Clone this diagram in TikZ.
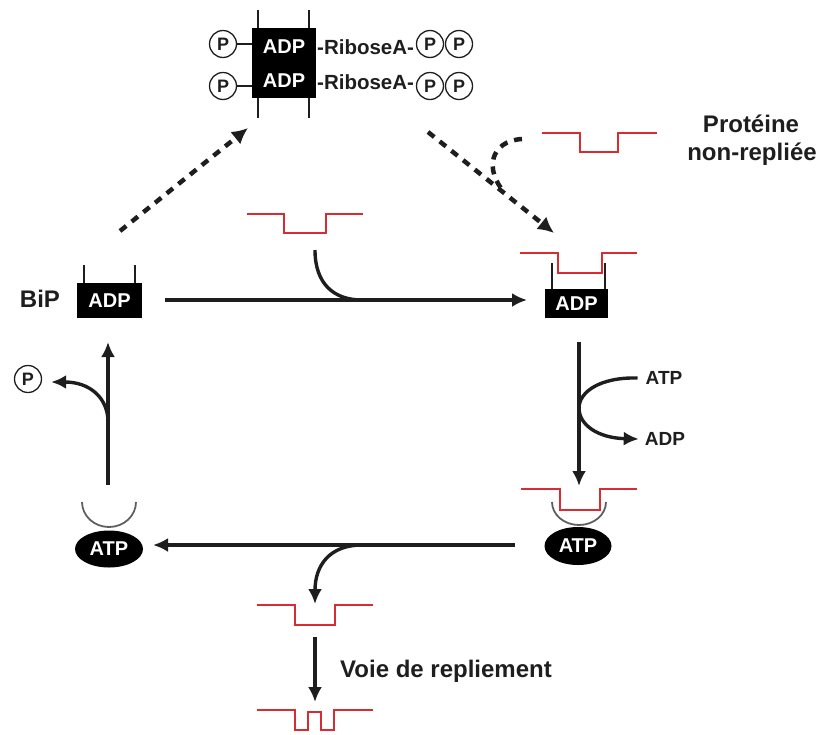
\documentclass[tikz,border=0pt]{standalone}
\usepackage{fontspec}
\setmainfont{Liberation Sans}
\usetikzlibrary{arrows.meta,shapes.geometric}
\definecolor{protred}{RGB}{215,45,50}
\definecolor{cupgray}{RGB}{95,95,95}
\definecolor{ink}{RGB}{30,30,30}
\begin{document}
\begin{tikzpicture}[x=1pt,y=-1pt,
  lbl/.style={font=\fontsize{24}{28}\selectfont\bfseries, text=ink, inner sep=0pt},
  small/.style={font=\fontsize{19}{22}\selectfont\bfseries, text=ink, inner sep=0pt},
  boxtxt/.style={font=\fontsize{20}{22}\selectfont\bfseries, text=white, inner sep=0pt},
  blackbox/.style={fill=black, inner sep=0pt, font=\fontsize{20}{22}\selectfont\bfseries, text=white},
  pcirc/.style={circle, draw=ink, line width=1.3pt, minimum size=27pt, inner sep=0pt, fill=white, font=\fontsize{18}{20}\selectfont\bfseries, text=ink},
  prot/.style={draw=protred, line width=2.2pt},
  arr/.style={draw=ink, line width=3.4pt, -{Latex[length=15pt,width=14pt]}},
  plain/.style={draw=ink, line width=3.4pt},
  dasharr/.style={draw=ink, line width=4.5pt, dash pattern=on 8pt off 7pt, -{Latex[length=16pt,width=16pt]}},
  dashplain/.style={draw=ink, line width=4.5pt, dash pattern=on 8pt off 7pt},
  prong/.style={draw=ink, line width=2pt},
  thin/.style={draw=ink, line width=1.3pt},
  cup/.style={draw=cupgray, line width=1.8pt},
]
\useasboundingbox (0,0) rectangle (824,734);

% ---------- top complex ----------
\draw[prong] (258,10) -- (258,118);
\draw[prong] (309,10) -- (309,118);
\node[blackbox, minimum width=64pt, minimum height=70pt] (topbox) at (284,63) {};
\node[boxtxt] (tadp1) at (284,47) {ADP};
\node[boxtxt] (tadp2) at (284,81) {ADP};
\node[pcirc] (pl1) at (223,44) {P};
\node[pcirc] (pl2) at (223,86) {P};
\draw[thin] (pl1.east) -- (pl1.east -| topbox.west);
\draw[thin] (pl2.east) -- (pl2.east -| topbox.west);
\node[font=\fontsize{20.5}{22}\selectfont\bfseries, text=ink, inner sep=0pt, anchor=west] (rib1) at (317,47) {-RiboseA-};
\node[font=\fontsize{20.5}{22}\selectfont\bfseries, text=ink, inner sep=0pt, anchor=west] (rib2) at (317,82) {-RiboseA-};
\node[pcirc] (pr1a) at (430,44) {P};
\node[pcirc] (pr1b) at (459,44) {P};
\node[pcirc] (pr2a) at (430,86) {P};
\node[pcirc] (pr2b) at (459,86) {P};

% ---------- dashed arrows ----------
\coordinate (d1s) at (120,231);
\coordinate (d1e) at (248,128);
\draw[dasharr] (d1s) -- (d1e);
\coordinate (d2s) at (428,132);
\coordinate (d2e) at (554,233);
\draw[dasharr] (d2s) -- (d2e);
\coordinate (d3s) at (522,139);
\coordinate (d3e) at (505,193);
\draw[dashplain] (d3s) .. controls (490,141) and (484,170) .. (d3e);

% ---------- unfolded protein label ----------
\draw[prot] (542,133) -- (580,133) -- (580,152) -- (618,152) -- (618,133) -- (657,133);
\node[lbl, anchor=base] (prot1) at (751,132) {Protéine};
\node[lbl, anchor=base] (prot2) at (752,160) {non-repliée};

% ---------- BiP ADP (left) ----------
\node[lbl] (bip) at (40,299) {BiP};
\draw[prong] (84,265) -- (84,285);
\draw[prong] (135,265) -- (135,285);
\node[blackbox, minimum width=65pt, minimum height=35pt] (bipbox) at (109.5,300.5) {ADP};

% ---------- top horizontal arrow ----------
\draw[prot] (247,214) -- (284,214) -- (284,233) -- (326,233) -- (326,214) -- (363,214);
\coordinate (h1s) at (165,300);
\coordinate (h1e) at (527,300);
\coordinate (h1c) at (315,250);
\coordinate (h1j) at (362,300);
\draw[arr] (h1s) -- (h1e);
\draw[plain] (h1c) .. controls (315,283) and (333,300) .. (h1j);

% ---------- right ADP with protein ----------
\draw[prong] (552,263) -- (552,292);
\draw[prong] (605,263) -- (605,292);
\node[blackbox, minimum width=63pt, minimum height=29pt] (rbox) at (576.5,303.5) {ADP};
\draw[prot] (520,253) -- (558,253) -- (558,273) -- (602,273) -- (602,253) -- (637,253);

% ---------- right vertical arrow ----------
\coordinate (rvs) at (579,342);
\coordinate (rve) at (579,486);
\draw[arr] (rvs) -- (rve);
\node[small] (atptxt) at (664,378) {ATP};
\node[small] (adptxt) at (665,439) {ADP};
\coordinate (rvj) at (579,408);
\draw[plain] (atptxt.west) ++(-8,0) .. controls (600,377) and (579,392) .. (rvj);
\draw[arr] (rvj) .. controls (579,425) and (598,438) .. ([xshift=-6pt]adptxt.west);

% ---------- right ATP with protein ----------
\draw[prot] (521,489) -- (560,489) -- (560,510) -- (600,510) -- (600,489) -- (637,489);
\draw[cup] (552,502) arc[start angle=180, end angle=0, x radius=27, y radius=23];
\node[ellipse, fill=black, minimum width=67pt, minimum height=38pt, inner sep=0pt, text=white, font=\fontsize{20}{22}\selectfont\bfseries] (atpR) at (578,546) {ATP};

% ---------- bottom horizontal arrow ----------
\coordinate (h2s) at (515,545);
\coordinate (h2e) at (153,545);
\draw[arr] (h2s) -- (h2e);
\coordinate (h2c) at (362,545);
\coordinate (h2t) at (315,604);
\draw[arr] (h2c) .. controls (330,545) and (315,565) .. (h2t);

% ---------- left ATP ----------
\draw[cup] (82,502) arc[start angle=180, end angle=0, x radius=27, y radius=25];
\node[ellipse, fill=black, minimum width=68pt, minimum height=37pt, inner sep=0pt, text=white, font=\fontsize{20}{22}\selectfont\bfseries] (atpL) at (109,549) {ATP};

% ---------- left vertical arrow ----------
\coordinate (lvs) at (108,485);
\coordinate (lve) at (108,342);
\draw[arr] (lvs) -- (lve);
\node[pcirc] (lp) at (28,379) {P};
\coordinate (lvj) at (108,422);
\draw[arr] (lvj) .. controls (108,398) and (90,382) .. ([xshift=9pt,yshift=-3pt]lp.east);

% ---------- folding pathway ----------
\draw[prot] (257,605) -- (295,605) -- (295,625) -- (335,625) -- (335,605) -- (373,605);
\coordinate (fs) at (315,637);
\coordinate (fe) at (315,702);
\draw[arr] (fs) -- (fe);
\node[lbl, anchor=base west] (voie) at (340,677) {Voie de repliement};
\draw[prot] (257,710) -- (295,710) -- (295,730) -- (308,730) -- (308,712) -- (321,712) -- (321,730) -- (334,730) -- (334,710) -- (373,710);
\end{tikzpicture}
\end{document}
